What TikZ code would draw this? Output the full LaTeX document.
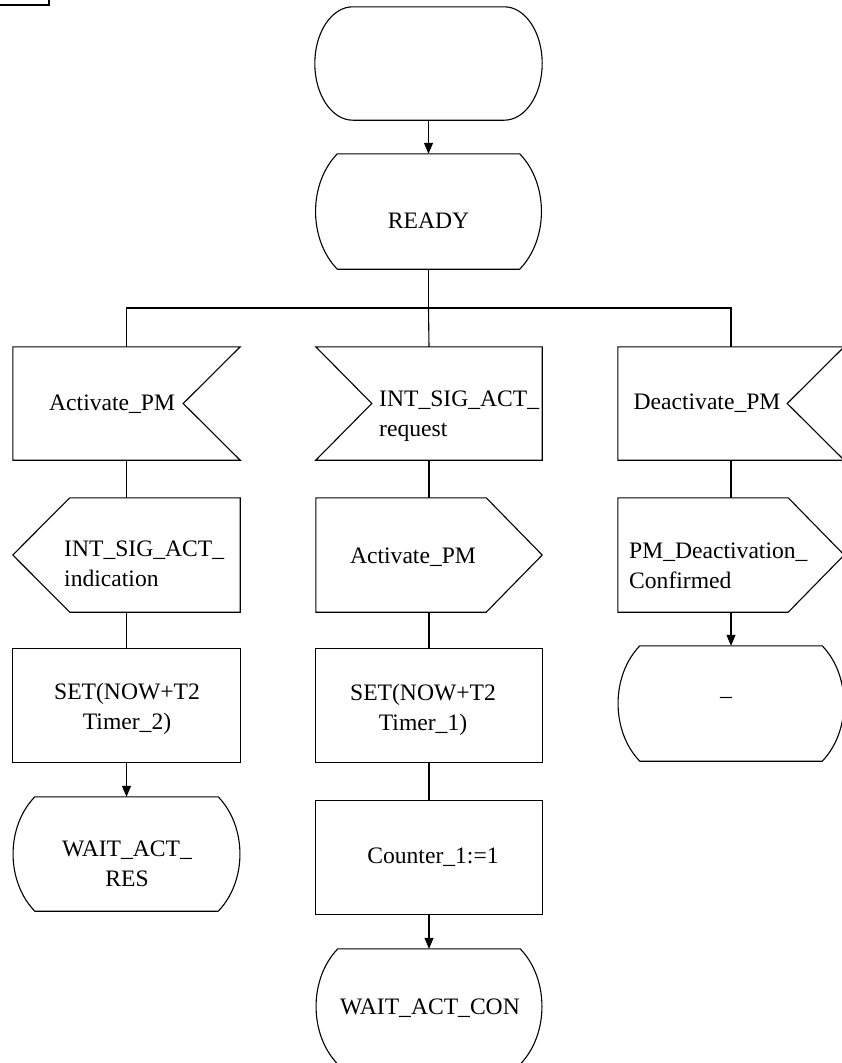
\documentclass[tikz,border=0pt]{standalone}
\usepackage{fontspec}
\setmainfont{Liberation Serif}
\usetikzlibrary{calc,arrows.meta}
\tikzset{
  frame/.style={draw=none, inner sep=0, minimum width=226, minimum height=113},
  tall/.style={frame, minimum height=115},
  txt/.style={inner sep=0, font=\fontsize{23.6}{29.5}\selectfont},
  outl/.style={draw=black, line width=1.1pt, line join=miter},
  arr/.style={outl, -{Triangle[length=11,width=9]}},
}
% state symbol
\newcommand{\drawstate}[1]{%
  \draw[outl] ($(#1.north west)+(22,0)$) -- ($(#1.north east)+(-22,0)$)
    .. controls ($(#1.north east)+(7,30)$) and ($(#1.south east)+(7,-30)$) .. ($(#1.south east)+(-22,0)$)
    -- ($(#1.south west)+(22,0)$)
    .. controls ($(#1.south west)+(-7,-30)$) and ($(#1.north west)+(-7,30)$) .. cycle;}
% terminal (start) symbol
\newcommand{\drawterm}[1]{%
  \draw[outl] ($(#1.north west)+(38,0)$) -- ($(#1.north east)+(-38,0)$)
    .. controls ($(#1.north east)+(-17,0)$) and ($(#1.north east)+(0,25.3)$) .. (#1.east)
    .. controls ($(#1.south east)+(0,-25.3)$) and ($(#1.south east)+(-17,0)$) .. ($(#1.south east)+(-38,0)$)
    -- ($(#1.south west)+(38,0)$)
    .. controls ($(#1.south west)+(17,0)$) and ($(#1.south west)+(0,-25.3)$) .. (#1.west)
    .. controls ($(#1.north west)+(0,25.3)$) and ($(#1.north west)+(17,0)$) .. cycle;}
% input, notch on the right
\newcommand{\drawinR}[1]{%
  \draw[outl] (#1.north west) -- (#1.north east) -- ($(#1.east)+(-57,0)$) -- (#1.south east) -- (#1.south west) -- cycle;}
% input, notch on the left
\newcommand{\drawinL}[1]{%
  \draw[outl] (#1.north west) -- (#1.north east) -- (#1.south east) -- (#1.south west) -- ($(#1.west)+(56,0)$) -- cycle;}
% output, point on the left
\newcommand{\drawoutL}[1]{%
  \draw[outl] (#1.west) -- ($(#1.north west)+(57,0)$) -- (#1.north east) -- (#1.south east) -- ($(#1.south west)+(57,0)$) -- cycle;}
% output, point on the right
\newcommand{\drawoutR}[1]{%
  \draw[outl] (#1.north west) -- ($(#1.north east)+(-56,0)$) -- (#1.east) -- ($(#1.south east)+(-56,0)$) -- (#1.south west) -- cycle;}
% task
\newcommand{\drawtask}[1]{%
  \draw[outl] (#1.north west) rectangle (#1.south east);}

\begin{document}
\begin{tikzpicture}[x=1pt,y=-1pt]
\useasboundingbox (0,0) rectangle (841,1063);

% small box in the corner
\draw[outl] (-3,-3) rectangle (49,5);

% shapes
\node[frame, minimum width=227] (start) at (428.5,63.5) {};
\node[tall] (ready) at (428.5,211.5) {};

\node[frame, minimum width=227] (a1) at (126.5,403.5) {};
\node[frame, minimum width=227, minimum height=114] (a2) at (126.5,555) {};
\node[frame, minimum width=227] (a3) at (126.5,705.5) {};
\node[frame, minimum width=227, minimum height=114] (a4) at (126.5,854) {};

\node[frame] (c1) at (429,403.5) {};
\node[frame, minimum height=114] (c2) at (429,555) {};
\node[frame] (c3) at (429,705.5) {};
\node[frame] (c4) at (429,857.5) {};
\node[tall] (c5) at (429,1006.5) {};

\node[frame] (d1) at (731,403.5) {};
\node[frame, minimum height=114] (d2) at (731,555) {};
\node[tall] (d3) at (731,703.5) {};

\drawterm{start}
\drawstate{ready}
\drawinR{a1}
\drawoutL{a2}
\drawtask{a3}
\drawstate{a4}
\drawinL{c1}
\drawoutR{c2}
\drawtask{c3}
\drawtask{c4}
\drawstate{c5}
\drawinR{d1}
\drawoutR{d2}
\drawstate{d3}

% texts
\node[txt] (readyT) at (428.5,221) {READY};
\node[txt, anchor=west] (a1T) at (49,404) {Activate\_PM};
\node[txt, anchor=west, align=left] (a2T) at (64,564) {INT\_SIG\_ACT\_\\indication};
\node[txt, align=center] (a3T) at (127,709) {SET(NOW+T2\\Timer\_2)};
\node[txt, align=center] (a4T) at (127,864) {WAIT\_ACT\_\\RES};
\node[txt, anchor=west, align=left] (c1T) at (379,416) {INT\_SIG\_ACT\_\\request};
\node[txt] (c2T) at (413,557) {Activate\_PM};
\node[txt, align=center] (c3T) at (423,710) {SET(NOW+T2\\Timer\_1)};
\node[txt] (c4T) at (433,857) {Counter\_1:=1};
\node[txt] (c5T) at (430,1008) {WAIT\_ACT\_CON};
\node[txt] (d1T) at (707,403) {Deactivate\_PM};
\node[txt, anchor=west, align=left] (d2T) at (629,566) {PM\_Deactivation\_\\Confirmed};
\node[txt] (d3T) at (726,700) {–};

% connectors
\coordinate (bus) at (428.5,308);
\draw[arr] (start.south) -- (ready.north);
\draw[outl] (ready.south) -- (bus);
\draw[outl] (a1.north) |- (bus) -| (d1.north);
\draw[outl] (bus) -- (c1.north);

\draw[outl] (a1.south) -- (a2.north);
\draw[outl] (a2.south) -- (a3.north);
\draw[arr] (a3.south) -- (a4.north);

\draw[outl] (c1.south) -- (c2.north);
\draw[outl] (c2.south) -- (c3.north);
\draw[outl] (c3.south) -- (c4.north);
\draw[arr] (c4.south) -- (c5.north);

\draw[outl] (d1.south) -- (d2.north);
\draw[arr] (d2.south) -- (d3.north);
\end{tikzpicture}
\end{document}
